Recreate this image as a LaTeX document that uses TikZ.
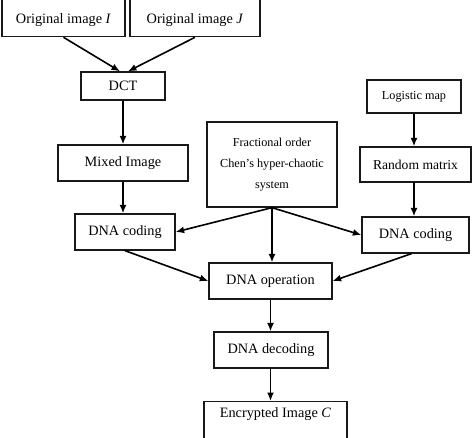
\documentclass[tikz,border=0pt]{standalone}
\usepackage{fontspec}
\setmainfont{Liberation Serif}
\usetikzlibrary{arrows.meta,calc}
\begin{document}
\begin{tikzpicture}[x=1pt,y=-1pt,
  box/.style={draw=black!90,line width=1.3pt,rectangle,inner sep=0pt,align=center,font=\fontsize{14.3}{17}\selectfont},
  smallbox/.style={box,font=\fontsize{12.2}{21}\selectfont},
  arr/.style={draw=black,line width=1.6pt,-{Latex[length=8.5pt,width=7pt]}}]
\useasboundingbox (0,0) rectangle (474,437);
\clip (0,0) rectangle (474,437);
% top image boxes (cut off at top)
\node[box,anchor=north,minimum width=123pt,text height=33pt,text depth=13pt] (img1) at (63.5,-10) {Original image \textit{I}};
\node[box,anchor=north,minimum width=130pt,text height=33pt,text depth=13pt] (img2) at (195,-10) {Original image \textit{J}};
\node[box,minimum width=84pt,minimum height=28pt] (dct) at (123,86) {DCT};
\node[box,minimum width=130pt,minimum height=36pt] (mix) at (123,163) {Mixed Image};
\node[box,minimum width=100pt,minimum height=36pt] (dnaL) at (125,232) {DNA coding};
\node[smallbox,minimum width=130pt,minimum height=85pt] (frac) at (272,164.5) {Fractional order\\Chen's hyper-chaotic\\system};
\node[smallbox,minimum width=94pt,minimum height=33pt] (logi) at (414,96.5) {Logistic map};
\node[box,font=\fontsize{13.6}{17}\selectfont,minimum width=111pt,minimum height=35pt] (rand) at (415.5,164.5) {Random matrix};
\node[box,minimum width=107pt,minimum height=36pt] (dnaR) at (415.5,235) {DNA coding};
\node[box,minimum width=123pt,minimum height=36pt] (op) at (270.5,281) {DNA operation};
\node[box,minimum width=114pt,minimum height=36pt] (dec) at (271,350) {DNA decoding};
\node[box,anchor=north,minimum width=143pt,text height=16pt,text depth=40pt] (enc) at (275.5,401) {Encrypted Image \textit{C}};
% connectors
\draw[arr] (img1.south) -- ($(dct.north)+(-3,0)$);
\draw[arr] (img2.south) -- ($(dct.north)+(5,0)$);
\draw[arr] (dct.south) -- (mix.north);
\draw[arr] (mix.south) -- (mix.south |- dnaL.north);
\draw[arr] (logi.south) -- (logi.south |- rand.north);
\draw[arr] (logi.south |- rand.south) -- (logi.south |- dnaR.north);
\draw[arr] (frac.south) -- (dnaL.east);
\draw[arr] (frac.south) -- (dnaR.west);
\draw[arr] (frac.south) -- (frac.south |- op.north);
\draw[arr] (dnaL.south) -- (op.west);
\draw[arr] ($(dnaR.south)+(-4,0)$) -- (op.east);
\draw[arr] (op.south) -- (op.south |- dec.north);
\draw[arr] (op.south |- dec.south) -- (op.south |- enc.north);
\end{tikzpicture}
\end{document}
